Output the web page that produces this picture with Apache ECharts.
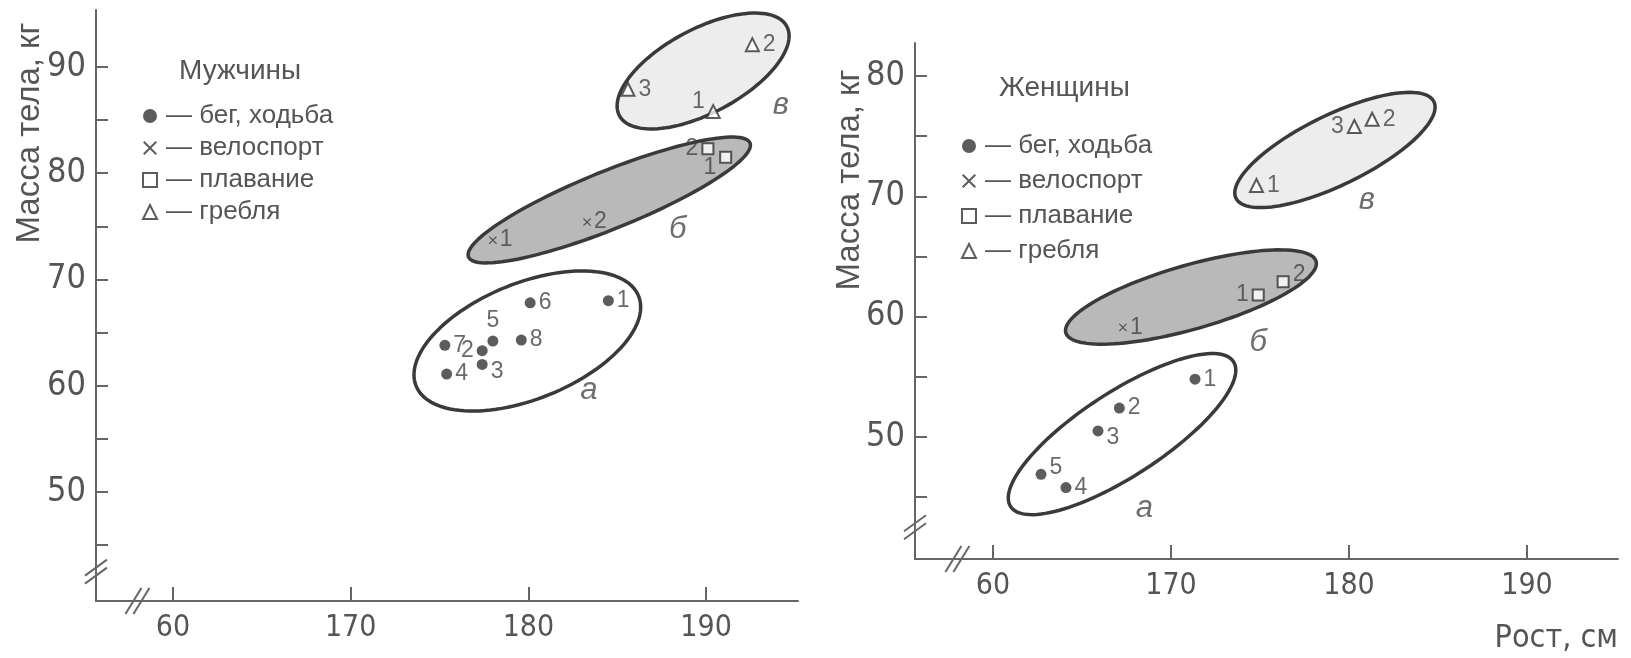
<!DOCTYPE html>
<html><head><meta charset="utf-8">
<script src="https://cdn.jsdelivr.net/npm/echarts@6/dist/echarts.min.js"></script>
<style>html,body{margin:0;padding:0;background:#fff}#c{width:1631px;height:658px}</style>
</head><body><div id="c"></div>
<script>
// ---------- data ----------
const sportNames = ['бег, ходьба', 'велоспорт', 'плавание', 'гребля'];
const panelTitles = ['Мужчины', 'Женщины'];
const yAxisTitle = 'Масса тела, кг';
const xAxisTitle = 'Рост, см';

// men
const menRunX = [184.5, 177.4, 177.4, 175.4, 178.0, 180.1, 175.3, 179.6];
const menRunY = [68.0, 63.3, 62.0, 61.1, 64.2, 67.8, 63.8, 64.3];
const menCycX = [178.0, 183.3];
const menCycY = [73.7, 75.4];
const menSwimX = [191.1, 190.1];
const menSwimY = [81.5, 82.3];
const menRowX = [190.4, 192.6, 185.6];
const menRowY = [85.8, 92.1, 87.9];

// women
const womenRunX = [171.35, 167.1, 165.9, 164.1, 162.7];
const womenRunY = [54.8, 52.4, 50.5, 45.8, 46.9];
const womenCycX = [167.3];
const womenCycY = [59.1];
const womenSwimX = [174.9, 176.3];
const womenSwimY = [61.8, 62.9];
const womenRowX = [174.8, 181.3, 180.3];
const womenRowY = [70.9, 76.4, 75.8];

// groups (а, б, в): centre, end of long half-axis, short/long ratio
const groupLetters = ['а', 'б', 'в'];
const menGroupCX = [179.94, 184.55, 189.83];
const menGroupCY = [64.21, 77.48, 89.62];
const menGroupEX = [186.20, 192.47, 194.54];
const menGroupEY = [68.44, 82.84, 93.82];
const menGroupRatio = [0.483, 0.19, 0.442];
const menGroupLabelX = [183.4, 188.4, 194.2];
const menGroupLabelY = [59.6, 74.7, 86.4];

const womenGroupCX = [167.25, 171.12, 179.21];
const womenGroupCY = [50.24, 61.63, 73.85];
const womenGroupEX = [173.51, 178.15, 184.77];
const womenGroupEY = [56.26, 64.60, 77.86];
const womenGroupRatio = [0.316, 0.246, 0.318];
const womenGroupLabelX = [168.5, 174.9, 181.0];
const womenGroupLabelY = [44.1, 57.9, 69.7];

// axes
const xTickValues = [160, 170, 180, 190];
const xTickLabels = ['60', '170', '180', '190'];
const menYTicks = [45, 50, 55, 60, 65, 70, 75, 80, 85, 90];
const menYLabels = [50, 60, 70, 80, 90];
const womenYTicks = [45, 50, 55, 60, 65, 70, 75, 80];
const womenYLabels = [50, 60, 70, 80];
const xBreakValue = 158;
const yBreakValue = 42.5;

// ---------- styles ----------
const axisColor = '#666';
const narrow = "'Liberation Sans Narrow','Arial Narrow','DejaVu Sans Condensed',sans-serif";
const regular = "'Liberation Sans',Arial,sans-serif";
const groupFills = ['rgba(255,255,255,0)', '#b9b9b9', '#ededed'];
const xPath = 'path://M0,1L1,0L5,4L9,0L10,1L6,5L10,9L9,10L5,6L1,10L0,9L4,5Z';
const symbols = ['circle', xPath, 'emptyRect', 'emptyTriangle'];
const symbolSizes = [11, 8, 11, 13];

const menLabelPos = [
  ['right', 'left', 'rightLow', 'right', 'top', 'right', 'right', 'right'],
  ['right', 'right'],
  ['leftLow', 'left'],
  ['leftHigh', 'right', 'right']
];
const womenLabelPos = [
  ['right', 'right', 'rightLow', 'right', 'rightHigh'],
  ['right'],
  ['left', 'rightHigh'],
  ['right', 'right', 'left']
];

const posMap = {
  right: {position: 'right', offset: [0, 0]},
  rightLow: {position: 'right', offset: [0, 7]},
  rightHigh: {position: 'right', offset: [0, -7]},
  left: {position: 'left', offset: [0, 0]},
  leftLow: {position: 'left', offset: [0, 10]},
  leftHigh: {position: 'left', offset: [2, -10]},
  top: {position: 'top', offset: [0, 0]}
};

const grids = [
  {left: 96, top: 10, width: 702, height: 591},
  {left: 915, top: 43, width: 703, height: 516}
];
const xRanges = [[155.67, 195.17], [155.62, 195.11]];
const yRanges = [[39.74, 95.36], [39.86, 82.74]];

function makeXAxis(i) {
  const ax = {
    type: 'value', gridIndex: i, min: xRanges[i][0], max: xRanges[i][1],
    splitLine: {show: false},
    axisLine: {show: true, onZero: false, lineStyle: {color: axisColor, width: 2}},
    axisTick: {show: true, inside: true, length: 14, customValues: xTickValues,
      lineStyle: {color: axisColor, width: 2}},
    axisLabel: {show: true, customValues: xTickValues, margin: 12,
      formatter: v => xTickLabels[xTickValues.indexOf(Math.round(v))],
      fontFamily: narrow, fontSize: 30, color: '#555'}
  };
  if (i === 1) {
    ax.name = xAxisTitle;
    ax.nameLocation = 'end';
    ax.nameGap = 0;
    ax.nameTextStyle = {fontFamily: narrow, fontSize: 32, color: '#555',
      align: 'right', verticalAlign: 'top', padding: [64, 0, 0, 0]};
  }
  return ax;
}
function makeYAxis(i, ticks, labels) {
  return {
    type: 'value', gridIndex: i, min: yRanges[i][0], max: yRanges[i][1],
    splitLine: {show: false},
    axisLine: {show: true, onZero: false, lineStyle: {color: axisColor, width: 2}},
    axisTick: {show: true, inside: true, length: 12, customValues: ticks,
      lineStyle: {color: axisColor, width: 2}},
    axisLabel: {show: true, customValues: labels, margin: 10,
      fontFamily: narrow, fontSize: 34, color: '#555'}
  };
}

function pointSeries(gi, k, xs, ys, labelPos) {
  return {
    type: 'scatter', name: sportNames[k], xAxisIndex: gi, yAxisIndex: gi, z: 5,
    symbol: symbols[k], symbolSize: symbolSizes[k],
    itemStyle: {color: '#333', borderColor: '#333', borderWidth: k >= 2 ? 2.4 : 0},
    label: {show: true, formatter: p => p.name, fontFamily: regular, fontSize: 23, color: '#444', distance: 3},
    data: xs.map((x, j) => {
      const lp = posMap[labelPos[j]];
      return {name: String(j + 1), value: [x, ys[j]], label: {position: lp.position, offset: lp.offset}};
    })
  };
}

function groupSeries(gi, cx, cy, ex, ey, ratio) {
  return {
    type: 'custom', xAxisIndex: gi, yAxisIndex: gi, z: 1, silent: true,
    encode: {x: [0, 2], y: [1, 3]},
    data: cx.map((v, j) => [v, cy[j], ex[j], ey[j], ratio[j]]),
    renderItem: (params, api) => {
      const c = api.coord([api.value(0), api.value(1)]);
      const e = api.coord([api.value(2), api.value(3)]);
      const r = api.value(4);
      const ux = e[0] - c[0], uy = e[1] - c[1];
      const pts = [];
      const n = 120;
      for (let k = 0; k < n; k++) {
        const t = k / n * 2 * Math.PI;
        const ct = Math.cos(t), st = Math.sin(t);
        pts.push([c[0] + ct * ux - st * r * uy, c[1] + ct * uy + st * r * ux]);
      }
      return {type: 'polygon', shape: {points: pts},
        style: {fill: groupFills[params.dataIndex], stroke: '#3a3a3a', lineWidth: 3.5}};
    }
  };
}

function groupLabelSeries(gi, lx, ly) {
  return {
    type: 'scatter', xAxisIndex: gi, yAxisIndex: gi, z: 4, symbolSize: 0, silent: true,
    label: {show: true, position: 'inside', formatter: p => p.name,
      fontFamily: regular, fontStyle: 'italic', fontSize: 31, color: '#4a4a4a'},
    data: lx.map((x, j) => ({name: groupLetters[j], value: [x, ly[j]]}))
  };
}

function breakSeries(gi) {
  return {
    type: 'custom', xAxisIndex: gi, yAxisIndex: gi, z: 6, silent: true, clip: false,
    data: [[xBreakValue, yRanges[gi][0], 0], [xRanges[gi][0], yBreakValue, 1]],
    renderItem: (params, api) => {
      const p = api.coord([api.value(0), api.value(1)]);
      const kind = api.value(2);
      const st = {stroke: axisColor, lineWidth: 2};
      const ch = [];
      for (const o of [-4, 4]) {
        if (kind === 0) {
          ch.push({type: 'line', shape: {x1: p[0] - 8 + o, y1: p[1] + 13, x2: p[0] + 8 + o, y2: p[1] - 13}, style: st});
        } else {
          ch.push({type: 'line', shape: {x1: p[0] - 11, y1: p[1] + 8 + o, x2: p[0] + 11, y2: p[1] - 8 + o}, style: st});
        }
      }
      return {type: 'group', children: ch};
    }
  };
}

const legendCommon = {
  orient: 'vertical', itemWidth: 14, itemHeight: 14, selectedMode: false,
  formatter: n => '— ' + n,
  textStyle: {fontFamily: regular, fontSize: 26, color: '#555', padding: [0, 0, 0, 4]},
  data: sportNames
};

const titleFont = "33px 'Liberation Sans', Arial, sans-serif";

const option = {
  animation: false,
  backgroundColor: '#fff',
  grid: grids,
  title: [
    {text: panelTitles[0], left: 174, top: 52, textStyle: {fontFamily: regular, fontSize: 28, fontWeight: 'normal', color: '#555'}},
    {text: panelTitles[1], left: 994, top: 69, textStyle: {fontFamily: regular, fontSize: 28, fontWeight: 'normal', color: '#555'}}
  ],
  legend: [
    Object.assign({}, legendCommon, {left: 137, top: 97, itemGap: 4, textStyle: Object.assign({}, legendCommon.textStyle, {lineHeight: 28})}),
    Object.assign({}, legendCommon, {left: 956, top: 126, itemGap: 5, textStyle: Object.assign({}, legendCommon.textStyle, {lineHeight: 30})})
  ],
  xAxis: [makeXAxis(0), makeXAxis(1)],
  yAxis: [makeYAxis(0, menYTicks, menYLabels), makeYAxis(1, womenYTicks, womenYLabels)],
  graphic: [
    {type: 'text', x: 30, y: 133, rotation: Math.PI / 2,
      style: {text: yAxisTitle, align: 'center', verticalAlign: 'middle', font: titleFont, fill: '#555'}},
    {type: 'text', x: 850, y: 180, rotation: Math.PI / 2,
      style: {text: yAxisTitle, align: 'center', verticalAlign: 'middle', font: titleFont, fill: '#555'}}
  ],
  series: [
    groupSeries(0, menGroupCX, menGroupCY, menGroupEX, menGroupEY, menGroupRatio),
    groupSeries(1, womenGroupCX, womenGroupCY, womenGroupEX, womenGroupEY, womenGroupRatio),
    groupLabelSeries(0, menGroupLabelX, menGroupLabelY),
    groupLabelSeries(1, womenGroupLabelX, womenGroupLabelY),
    pointSeries(0, 0, menRunX, menRunY, menLabelPos[0]),
    pointSeries(0, 1, menCycX, menCycY, menLabelPos[1]),
    pointSeries(0, 2, menSwimX, menSwimY, menLabelPos[2]),
    pointSeries(0, 3, menRowX, menRowY, menLabelPos[3]),
    pointSeries(1, 0, womenRunX, womenRunY, womenLabelPos[0]),
    pointSeries(1, 1, womenCycX, womenCycY, womenLabelPos[1]),
    pointSeries(1, 2, womenSwimX, womenSwimY, womenLabelPos[2]),
    pointSeries(1, 3, womenRowX, womenRowY, womenLabelPos[3]),
    breakSeries(0),
    breakSeries(1)
  ]
};

const chart = echarts.init(document.getElementById('c'), null, {renderer: 'canvas'});
chart.setOption(option);
</script>
</body></html>
